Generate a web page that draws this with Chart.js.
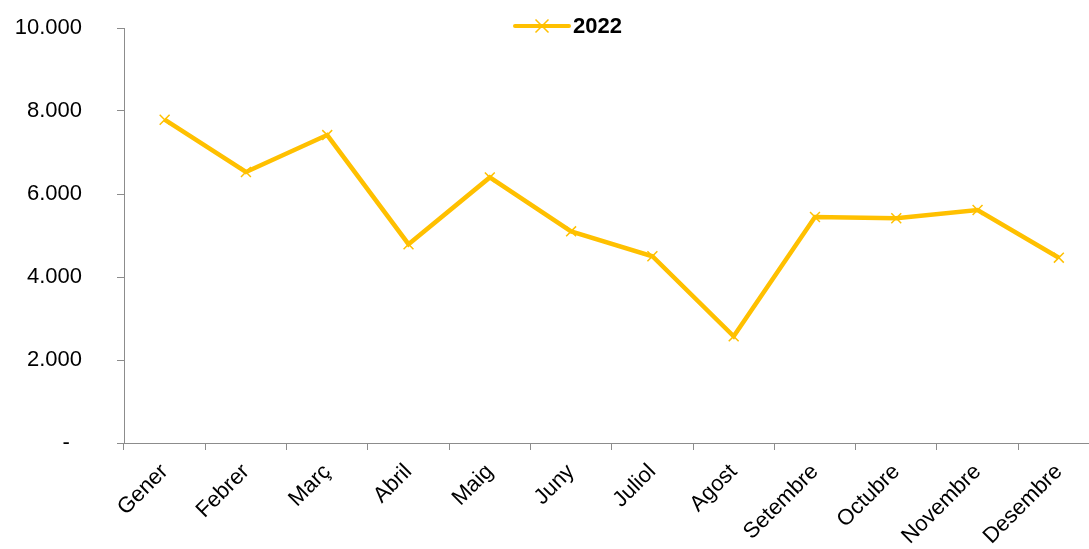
<!DOCTYPE html>
<html>
<head>
<meta charset="utf-8">
<script src="https://cdn.jsdelivr.net/npm/chart.js@4.4.1/dist/chart.umd.min.js"></script>
<style>
  html, body { margin: 0; padding: 0; background: #fff; overflow: hidden; }
  #wrap { width: 1108px; height: 549px; }
</style>
</head>
<body>
<div id="wrap"><canvas id="chart"></canvas></div>
<script>
const months = ['Gener', 'Febrer', 'Març', 'Abril', 'Maig', 'Juny', 'Juliol', 'Agost', 'Setembre', 'Octubre', 'Novembre', 'Desembre'];
const values2022 = [7790, 6530, 7420, 4790, 6400, 5100, 4500, 2570, 5445, 5415, 5615, 4465];
const seriesLabel = '2022';

const FONT = "'Liberation Sans', Arial, sans-serif";
const GOLD = '#FFC000';
const AXIS = '#8c8c8c';

function fmt(v) {
    if (v === 0) return '-  ';
    return String(v).replace(/\B(?=(\d{3})+(?!\d))/g, '.');
}

// legend drawn by hand: line with cross, bold label
const topLegend = {
    id: 'topLegend',
    afterDraw(chart) {
        const ctx = chart.ctx;
        const label = chart.data.datasets[0].label;
        ctx.save();
        ctx.font = 'bold 22px ' + FONT;
        const lineW = 54;
        const x0 = 515;
        const y = 26;
        ctx.strokeStyle = GOLD;
        ctx.lineWidth = 4;
        ctx.lineCap = 'round';
        ctx.beginPath();
        ctx.moveTo(x0, y);
        ctx.lineTo(x0 + lineW, y);
        ctx.stroke();
        ctx.lineWidth = 1.5;
        ctx.lineCap = 'butt';
        const cx = x0 + lineW / 2, r = 6.5;
        ctx.beginPath();
        ctx.moveTo(cx - r, y - r); ctx.lineTo(cx + r, y + r);
        ctx.moveTo(cx - r, y + r); ctx.lineTo(cx + r, y - r);
        ctx.stroke();
        ctx.fillStyle = '#000';
        ctx.textBaseline = 'middle';
        ctx.fillText(label, x0 + lineW + 4, y + 1);
        ctx.restore();
    }
};

new Chart(document.getElementById('chart'), {
    type: 'line',
    data: {
        labels: months,
        datasets: [{
            label: seriesLabel,
            data: values2022,
            borderColor: GOLD,
            backgroundColor: GOLD,
            borderWidth: 4.5,
            pointStyle: 'crossRot',
            pointRadius: 7,
            pointBorderWidth: 1.5,
            pointBorderColor: GOLD,
            tension: 0,
            fill: false
        }]
    },
    options: {
        responsive: true,
        maintainAspectRatio: false,
        animation: false,
        layout: { padding: { top: 28, right: 0, left: 0, bottom: 0 } },
        plugins: {
            legend: { display: false },
            tooltip: { enabled: false }
        },
        scales: {
            x: {
                offset: true,
                grid: {
                    offset: true,
                    drawOnChartArea: false,
                    drawTicks: true,
                    tickLength: 7,
                    color: AXIS
                },
                border: { color: AXIS, width: 1 },
                ticks: {
                    color: '#000',
                    font: { family: FONT, size: 22 },
                    minRotation: 45,
                    maxRotation: 45,
                    autoSkip: false,
                    padding: 9
                },
                afterFit(scale) { scale.height = 106; }
            },
            y: {
                min: 0,
                max: 10000,
                grid: {
                    drawOnChartArea: false,
                    drawTicks: true,
                    tickLength: 7,
                    color: AXIS
                },
                border: { color: AXIS, width: 1 },
                ticks: {
                    stepSize: 2000,
                    color: '#000',
                    font: { family: FONT, size: 22 },
                    padding: 35,
                    callback: (v) => fmt(v)
                },
                afterFit(scale) {
                    scale.width = 124;
                    scale.paddingTop = 0;
                    scale.paddingBottom = 0;
                }
            }
        }
    },
    plugins: [topLegend]
});
</script>
</body>
</html>
